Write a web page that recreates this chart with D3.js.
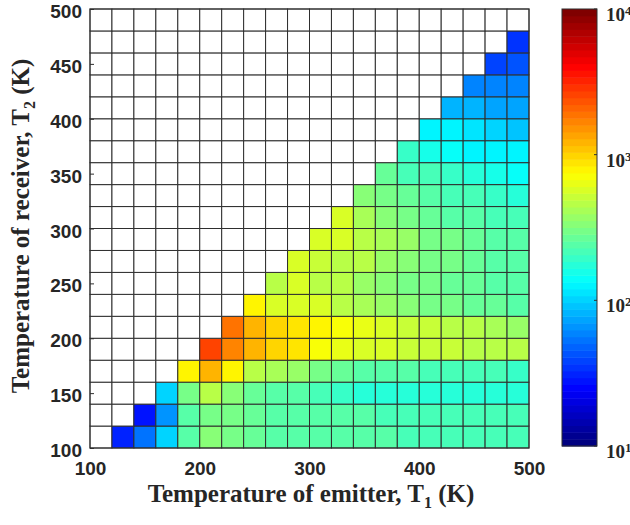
<!DOCTYPE html>
<html><head><meta charset="utf-8">
<script src="https://cdn.jsdelivr.net/npm/d3@7"></script>
<style>
html,body{margin:0;padding:0;background:#fff;}
svg{display:block;font-family:"Liberation Serif","Times New Roman",serif;font-weight:bold;}
</style></head><body>
<svg id="chart" width="630" height="525"></svg>
<script>
// ---------------- data ----------------
// cell edges (K)
const emitterEdges  = [100,120,140,160,180,200,220,240,260,280,300,320,340,360,380,400,420,440,460,480,500];
const receiverEdges = [100,120,140,160,180,200,220,240,260,280,300,320,340,360,380,400,420,440,460,480,500];
const xTickValues = [100,200,300,400,500];
const yTickValues = [100,150,200,250,300,350,400,450,500];
const colorTickValues = [10,100,1000,10000];
const colorTickExponents = ["1","2","3","4"];

// one array per receiver row (T2 bin lower edge), one value per emitter bin; null = empty cell
const rowT2_100 = [null,31,52,98,232,339,316,266,248,240,232,232,232,232,224,224,224,224,224,224];
const rowT2_120 = [null,null,29,69,248,316,295,266,248,232,232,232,232,224,224,224,216,216,216,216];
const rowT2_140 = [null,null,null,98,295,447,339,266,248,232,209,195,182,182,182,182,182,182,182,182];
const rowT2_160 = [null,null,null,null,830,1195,750,479,417,389,295,266,248,240,232,224,216,216,209,200];
const rowT2_180 = [null,null,null,null,null,2650,1778,1259,1000,880,700,650,600,560,540,520,490,480,460,450];
const rowT2_200 = [null,null,null,null,null,null,1870,1259,955,850,750,700,620,570,510,490,460,450,420,390];
const rowT2_220 = [null,null,null,null,null,null,null,750,589,550,550,479,417,389,351,316,295,275,257,248];
const rowT2_240 = [null,null,null,null,null,null,null,null,447,550,479,447,376,339,316,295,266,257,240,232];
const rowT2_260 = [null,null,null,null,null,null,null,null,null,560,531,479,447,389,339,316,295,266,248,232];
const rowT2_280 = [null,null,null,null,null,null,null,null,null,null,589,550,479,417,389,316,295,266,248,232];
const rowT2_300 = [null,null,null,null,null,null,null,null,null,null,null,560,417,339,295,266,248,232,216,209];
const rowT2_320 = [null,null,null,null,null,null,null,null,null,null,null,null,339,295,266,240,224,209,195,182];
const rowT2_340 = [null,null,null,null,null,null,null,null,null,null,null,null,null,266,224,209,188,176,158,148];
const rowT2_360 = [null,null,null,null,null,null,null,null,null,null,null,null,null,null,188,158,148,133,133,124];
const rowT2_380 = [null,null,null,null,null,null,null,null,null,null,null,null,null,null,null,120,120,112,98,91];
const rowT2_400 = [null,null,null,null,null,null,null,null,null,null,null,null,null,null,null,null,82,79,74,74];
const rowT2_420 = [null,null,null,null,null,null,null,null,null,null,null,null,null,null,null,null,null,60,62,58];
const rowT2_440 = [null,null,null,null,null,null,null,null,null,null,null,null,null,null,null,null,null,null,40,43];
const rowT2_460 = [null,null,null,null,null,null,null,null,null,null,null,null,null,null,null,null,null,null,null,35];
const rowT2_480 = [null,null,null,null,null,null,null,null,null,null,null,null,null,null,null,null,null,null,null,null];

const rows = [rowT2_100,rowT2_120,rowT2_140,rowT2_160,rowT2_180,rowT2_200,rowT2_220,rowT2_240,rowT2_260,rowT2_280,
              rowT2_300,rowT2_320,rowT2_340,rowT2_360,rowT2_380,rowT2_400,rowT2_420,rowT2_440,rowT2_460,rowT2_480];

// ---------------- drawing ----------------
const svg = d3.select("#chart");
const textColor = "#262626";
const gridColor = "#2e2e2e";

const x = d3.scaleLinear().domain([100,500]).range([90,529]);
const y = d3.scaleLinear().domain([100,500]).range([448,9]);
const tScale = d3.scaleLog().domain([10,10000]).range([0,1]).clamp(true);

function clamp01(v){ return Math.max(0, Math.min(1, v)); }
function jet(t){
  const r = clamp01(1.5 - Math.abs(4*t - 3));
  const g = clamp01(1.5 - Math.abs(4*t - 2));
  const b = clamp01(1.5 - Math.abs(4*t - 1));
  return d3.rgb(Math.round(r*255), Math.round(g*255), Math.round(b*255)).formatHex();
}
const NC = 64;
function cmap(v){
  const t = tScale(v);
  const idx = Math.min(NC-1, Math.floor(t*NC));
  return jet(idx/(NC-1));
}

// cells
const cells = [];
rows.forEach((row, j) => {
  row.forEach((v, i) => {
    cells.push({i, j, v});
  });
});
svg.append("g").selectAll("rect").data(cells).join("rect")
  .attr("x", d => x(emitterEdges[d.i]))
  .attr("y", d => y(receiverEdges[d.j+1]))
  .attr("width", d => x(emitterEdges[d.i+1]) - x(emitterEdges[d.i]))
  .attr("height", d => y(receiverEdges[d.j]) - y(receiverEdges[d.j+1]))
  .attr("fill", d => d.v == null ? "#ffffff" : cmap(d.v))
  .attr("stroke", gridColor)
  .attr("stroke-width", 1);

// frame
svg.append("rect")
  .attr("x", x(100)).attr("y", y(500))
  .attr("width", x(500)-x(100)).attr("height", y(100)-y(500))
  .attr("fill","none").attr("stroke", gridColor).attr("stroke-width",1);

// axes
const xAxis = svg.append("g")
  .attr("transform", `translate(0,${y(100)})`)
  .call(d3.axisBottom(x).tickValues(xTickValues).tickSize(0).tickPadding(14).tickFormat(d3.format("d")));
xAxis.select(".domain").remove();
xAxis.selectAll("text").attr("fill", textColor).attr("font-size", 19).attr("font-family", null);

const yAxis = svg.append("g")
  .attr("transform", `translate(${x(100)},0)`)
  .call(d3.axisLeft(y).tickValues(yTickValues).tickSizeInner(-4).tickSizeOuter(0).tickPadding(8).tickFormat(d3.format("d")));
yAxis.select(".domain").remove();
yAxis.selectAll("line").attr("stroke", gridColor);
yAxis.selectAll("text").attr("fill", textColor).attr("font-size", 19).attr("font-family", null).attr("dy", "0.45em");

// axis titles
const xt = svg.append("text")
  .attr("x", 311).attr("y", 502)
  .attr("text-anchor", "middle").attr("font-size", 25).attr("fill", textColor);
xt.append("tspan").text("Temperature of emitter, T");
xt.append("tspan").attr("font-size", 16).attr("dy", 6).text("1");
xt.append("tspan").attr("dy", -6).text(" (K)");

const yt = svg.append("text")
  .attr("transform", "translate(29,226) rotate(-90)")
  .attr("text-anchor", "middle").attr("font-size", 25).attr("fill", textColor);
yt.append("tspan").text("Temperature of receiver, T");
yt.append("tspan").attr("font-size", 16).attr("dy", 6).text("2");
yt.append("tspan").attr("dy", -6).text(" (K)");

// colorbar
const cbX0 = 562, cbX1 = 597;
const cbY = d3.scaleLog().domain([10,10000]).range([446,9]);
const cbT = d3.scaleLinear().domain([0,1]).range([446,9]);
const bands = d3.range(NC);
svg.append("g").selectAll("rect").data(bands).join("rect")
  .attr("x", cbX0)
  .attr("y", k => cbT((k+1)/NC))
  .attr("width", cbX1 - cbX0)
  .attr("height", k => cbT(k/NC) - cbT((k+1)/NC) + 0.5)
  .attr("fill", k => jet(k/(NC-1)));
svg.append("rect")
  .attr("x", cbX0).attr("y", cbY(10000))
  .attr("width", cbX1-cbX0).attr("height", cbY(10)-cbY(10000))
  .attr("fill","none").attr("stroke", gridColor).attr("stroke-width",1);
svg.append("g").selectAll("line").data(colorTickValues).join("line")
  .attr("x1", cbX1-3).attr("x2", cbX1)
  .attr("y1", d => cbY(d)).attr("y2", d => cbY(d))
  .attr("stroke", gridColor);
const cbl = svg.append("g").selectAll("text").data(colorTickValues).join("text")
  .attr("x", 606).attr("y", d => cbY(d) + 12)
  .attr("font-size", 19).attr("fill", textColor);
cbl.append("tspan").text("10");
cbl.append("tspan").attr("font-size", 13).attr("dy", -6).text((d,i) => colorTickExponents[i]);
</script>
</body></html>
